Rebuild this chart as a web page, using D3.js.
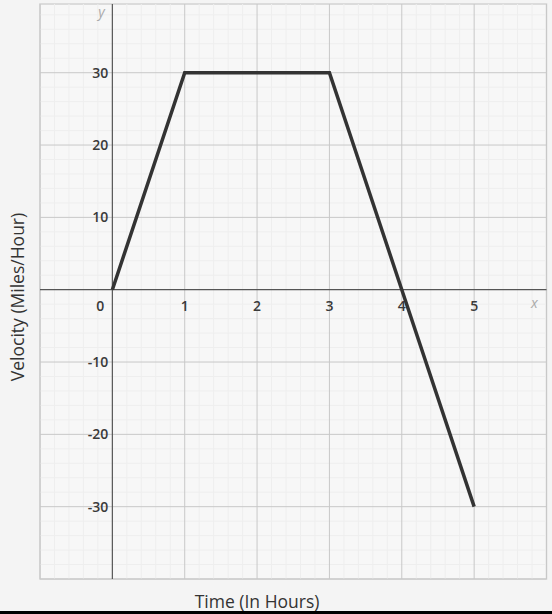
<!DOCTYPE html>
<html><head><meta charset="utf-8">
<script src="https://cdn.jsdelivr.net/npm/d3@7"></script>
<style>html,body{margin:0;padding:0;background:#f4f4f4;}svg{display:block;}</style>
</head><body>
<script>
const times = [0, 1, 3, 4, 5];
const velocities = [0, 30, 30, 0, -30];
const xTicks = [0, 1, 2, 3, 4, 5];
const yTicks = [-30, -20, -10, 10, 20, 30];
const xMajor = [-1, 0, 1, 2, 3, 4, 5, 6];
const yMajor = [-40, -30, -20, -10, 0, 10, 20, 30];

const W = 552, H = 614;
const svg = d3.select("body").append("svg").attr("width", W).attr("height", H);
svg.append("rect").attr("width", W).attr("height", H).attr("fill", "#f4f4f4");

const x = d3.scaleLinear().domain([-1, 6]).range([40, 546.5]);
const y = d3.scaleLinear().domain([-40, 39.5]).range([579, 4]);

svg.append("rect").attr("x", x(-1)).attr("y", y(39.5)).attr("width", x(6)-x(-1)).attr("height", y(-40)-y(39.5))
  .attr("fill", "#f7f7f7").attr("stroke", "#d2d2d2").attr("stroke-width", 1.5);

const g = svg.append("g");
const xMinor = d3.range(-1, 6.001, 0.2).filter(v => Math.abs(v - Math.round(v)) > 1e-6);
const yMinor = d3.range(-40, 39.5, 2).filter(v => v % 10 !== 0);
g.selectAll(".mx").data(xMinor).join("line")
  .attr("x1", d => x(d)).attr("x2", d => x(d)).attr("y1", y(39.5)).attr("y2", y(-40))
  .attr("stroke", "#eeeeee").attr("stroke-width", 1);
g.selectAll(".my").data(yMinor).join("line")
  .attr("y1", d => y(d)).attr("y2", d => y(d)).attr("x1", x(-1)).attr("x2", x(6))
  .attr("stroke", "#eeeeee").attr("stroke-width", 1);
g.selectAll(".Mx").data(xMajor.filter(d => d !== 0)).join("line")
  .attr("x1", d => x(d)).attr("x2", d => x(d)).attr("y1", y(39.5)).attr("y2", y(-40))
  .attr("stroke", "#c8c8c8").attr("stroke-width", 1);
g.selectAll(".My").data(yMajor.filter(d => d !== 0)).join("line")
  .attr("y1", d => y(d)).attr("y2", d => y(d)).attr("x1", x(-1)).attr("x2", x(6))
  .attr("stroke", "#c8c8c8").attr("stroke-width", 1);
g.append("line").attr("x1", x(0)).attr("x2", x(0)).attr("y1", y(39.5)).attr("y2", y(-40)).attr("stroke", "#555").attr("stroke-width", 1.2);
g.append("line").attr("y1", y(0)).attr("y2", y(0)).attr("x1", x(-1)).attr("x2", x(6)).attr("stroke", "#555").attr("stroke-width", 1.2);

const font = "'Open Sans', Lato, sans-serif";
svg.selectAll(".xt").data(xTicks).join("text")
  .attr("x", d => d === 0 ? x(0) - 12 : x(d)).attr("y", y(0) + 21)
  .attr("text-anchor", "middle").attr("font-family", font).attr("font-size", 14).attr("font-weight", 600)
  .attr("fill", "#3a3a3a").text(d => d);
svg.selectAll(".yt").data(yTicks).join("text")
  .attr("x", x(0) - 4).attr("y", d => y(d) + 5)
  .attr("text-anchor", "end").attr("font-family", font).attr("font-size", 14).attr("font-weight", 600)
  .attr("fill", "#3a3a3a").text(d => d);
svg.append("text").attr("x", x(0) - 14).attr("y", 17).attr("font-family", font).attr("font-style", "italic")
  .attr("font-size", 14).attr("fill", "#aaa").text("y");
svg.append("text").attr("x", 531).attr("y", y(0) + 18).attr("font-family", font).attr("font-style", "italic")
  .attr("font-size", 14).attr("fill", "#aaa").text("x");

const pts = times.map((t, i) => [t, velocities[i]]);
svg.append("path").datum(pts)
  .attr("d", d3.line().x(d => x(d[0])).y(d => y(d[1])))
  .attr("fill", "none").attr("stroke", "#333").attr("stroke-width", 3.5).attr("stroke-linejoin", "miter");

svg.append("text").attr("x", x(2)).attr("y", 608).attr("text-anchor", "middle")
  .attr("font-family", font).attr("font-size", 17.5).attr("fill", "#333").text("Time (In Hours)");
svg.append("text").attr("transform", `translate(24,${297}) rotate(-90)`).attr("text-anchor", "middle")
  .attr("font-family", font).attr("font-size", 17.5).attr("fill", "#333").text("Velocity (Miles/Hour)");

svg.append("rect").attr("x", 0).attr("y", 611).attr("width", W).attr("height", 3).attr("fill", "#000");
</script>
</body></html>
